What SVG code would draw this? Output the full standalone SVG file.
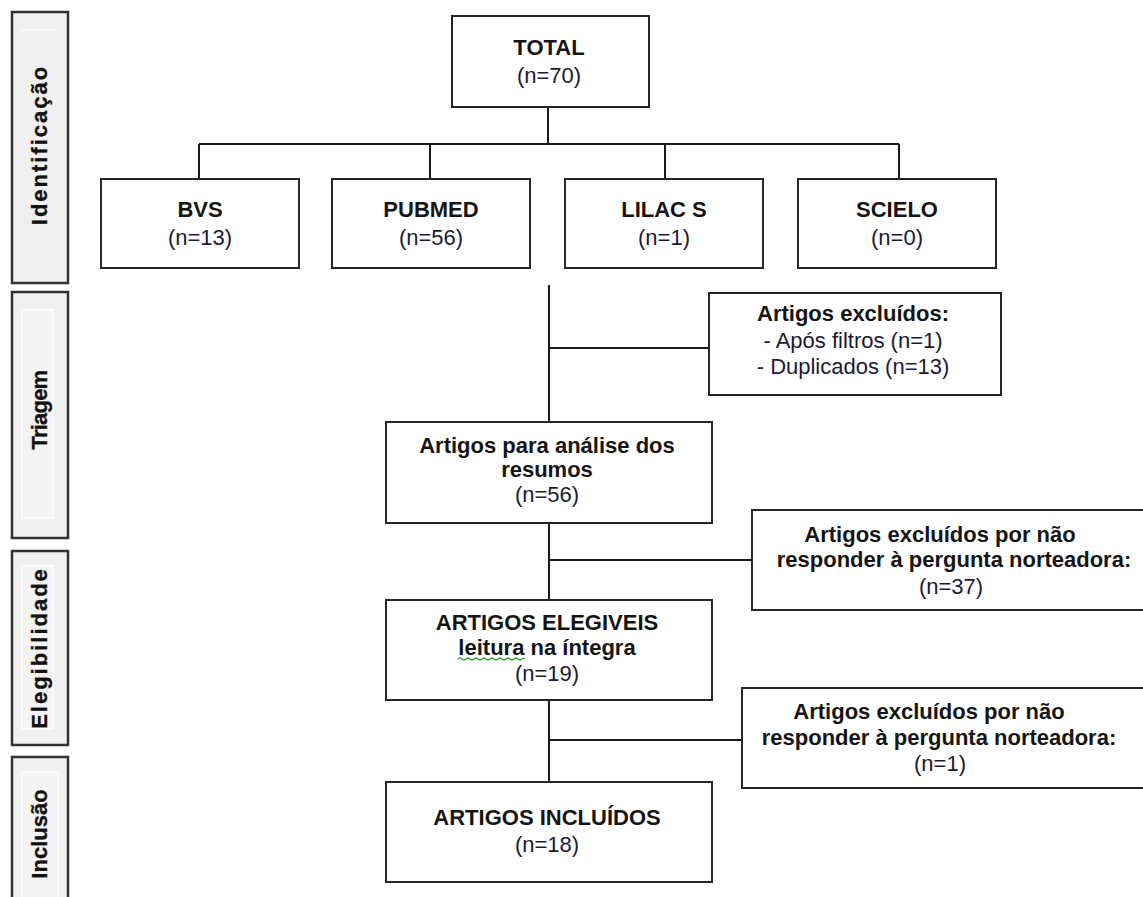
<svg xmlns="http://www.w3.org/2000/svg" width="1143" height="897" viewBox="0 0 1143 897">
<style>
  .box { fill: #ffffff; stroke: #262626; stroke-width: 2; }
  .side { fill: #f0f0f0; stroke: #333333; stroke-width: 2.5; }
  .inner { fill: #f3f3f3; stroke: #fbfbfb; stroke-width: 1.5; }
  .conn line { stroke: #1a1a1a; stroke-width: 2; }
  text { font-family: "Liberation Sans", Arial, sans-serif; fill: #141414; text-anchor: middle; }
  .b { font-weight: bold; font-size: 22px; }
  .r { font-size: 22px; fill: #1a1a33; }
  .v { font-weight: bold; font-size: 22px; fill: #111111; stroke: #111111; stroke-width: 0.3; }
</style>

<g id="side-identificacao">
  <rect class="side" x="12" y="12" width="56" height="271"/>
  <line x1="21" y1="30" x2="56" y2="30" stroke="#fcfcfc" stroke-width="1.5"/>
  <text class="v" letter-spacing="2" transform="translate(47,145) rotate(-90)">Identificação</text>
</g>
<g id="side-triagem">
  <rect class="side" x="12" y="292" width="56" height="246"/>
  <rect class="inner" x="22" y="310" width="31" height="208"/>
  <text class="v" letter-spacing="-0.8" transform="translate(47,410) rotate(-90)">Triagem</text>
</g>
<g id="side-elegibilidade">
  <rect class="side" x="12" y="551" width="56" height="194"/>
  <rect class="inner" x="22" y="566" width="31" height="163"/>
  <text class="v" letter-spacing="2" transform="translate(47,648) rotate(-90)">Elegibilidade</text>
</g>
<g id="side-inclusao">
  <rect class="side" x="12" y="757" width="56" height="150"/>
  <rect class="inner" x="22" y="772" width="36" height="130"/>
  <text class="v" transform="translate(47,834) rotate(-90)">Inclusão</text>
</g>

<g id="connectors" class="conn">
  <line x1="548" y1="107" x2="548" y2="144"/>
  <line x1="199" y1="144" x2="899" y2="144"/>
  <line x1="199" y1="144" x2="199" y2="179"/>
  <line x1="430" y1="144" x2="430" y2="179"/>
  <line x1="665" y1="144" x2="665" y2="179"/>
  <line x1="899" y1="144" x2="899" y2="179"/>
  <line x1="549" y1="285" x2="549" y2="422"/>
  <line x1="549" y1="348" x2="709" y2="348"/>
  <line x1="549" y1="523" x2="549" y2="600"/>
  <line x1="549" y1="560" x2="752" y2="560"/>
  <line x1="549" y1="700" x2="549" y2="782"/>
  <line x1="549" y1="740" x2="742" y2="740"/>
</g>

<g id="total">
  <rect class="box" x="452" y="16" width="197" height="91"/>
  <text class="b" x="549" y="55">TOTAL</text>
  <text class="r" x="549" y="83">(n=70)</text>
</g>
<g id="bvs">
  <rect class="box" x="101" y="179" width="198" height="89"/>
  <text class="b" x="200" y="217">BVS</text>
  <text class="r" x="200" y="245">(n=13)</text>
</g>
<g id="pubmed">
  <rect class="box" x="332" y="179" width="198" height="89"/>
  <text class="b" x="431" y="217">PUBMED</text>
  <text class="r" x="431" y="245">(n=56)</text>
</g>
<g id="lilacs">
  <rect class="box" x="565" y="179" width="198" height="89"/>
  <text class="b" x="664" y="217">LILAC S</text>
  <text class="r" x="664" y="245">(n=1)</text>
</g>
<g id="scielo">
  <rect class="box" x="798" y="179" width="198" height="89"/>
  <text class="b" x="897" y="217">SCIELO</text>
  <text class="r" x="897" y="245">(n=0)</text>
</g>

<g id="excluidos-1">
  <rect class="box" x="709" y="293" width="292" height="102"/>
  <text class="b" x="853" y="321">Artigos excluídos:</text>
  <text class="r" x="853" y="348">- Após filtros (n=1)</text>
  <text class="r" x="853" y="374">- Duplicados (n=13)</text>
</g>
<g id="analise-resumos">
  <rect class="box" x="386" y="422" width="326" height="101"/>
  <text class="b" x="547" y="453">Artigos para análise dos</text>
  <text class="b" x="547" y="477">resumos</text>
  <text class="r" x="547" y="502">(n=56)</text>
</g>
<g id="excluidos-2">
  <rect class="box" x="752" y="510" width="400" height="100"/>
  <text class="b" x="940" y="542">Artigos excluídos por não</text>
  <text class="b" x="954" y="567">responder à pergunta norteadora:</text>
  <text class="r" x="951" y="594">(n=37)</text>
</g>
<g id="elegiveis">
  <rect class="box" x="386" y="600" width="326" height="100"/>
  <text class="b" x="547" y="630">ARTIGOS ELEGIVEIS</text>
  <text class="b" x="547" y="655">leitura na íntegra</text>
  <path d="M458 659 q2 -2 4 0 t4 0 t4 0 t4 0 t4 0 t4 0 t4 0 t4 0 t4 0 t4 0 t4 0 t4 0 t4 0 t4 0 t4 0 t4 0 t3 0" fill="none" stroke="#3aa63a" stroke-width="1.2"/>
  <text class="r" x="547" y="681">(n=19)</text>
</g>
<g id="excluidos-3">
  <rect class="box" x="742" y="688" width="410" height="100"/>
  <text class="b" x="929" y="719">Artigos excluídos por não</text>
  <text class="b" x="939" y="745">responder à pergunta norteadora:</text>
  <text class="r" x="940" y="771">(n=1)</text>
</g>
<g id="incluidos">
  <rect class="box" x="386" y="782" width="326" height="100"/>
  <text class="b" x="547" y="825">ARTIGOS INCLUÍDOS</text>
  <text class="r" x="547" y="852">(n=18)</text>
</g>
</svg>
